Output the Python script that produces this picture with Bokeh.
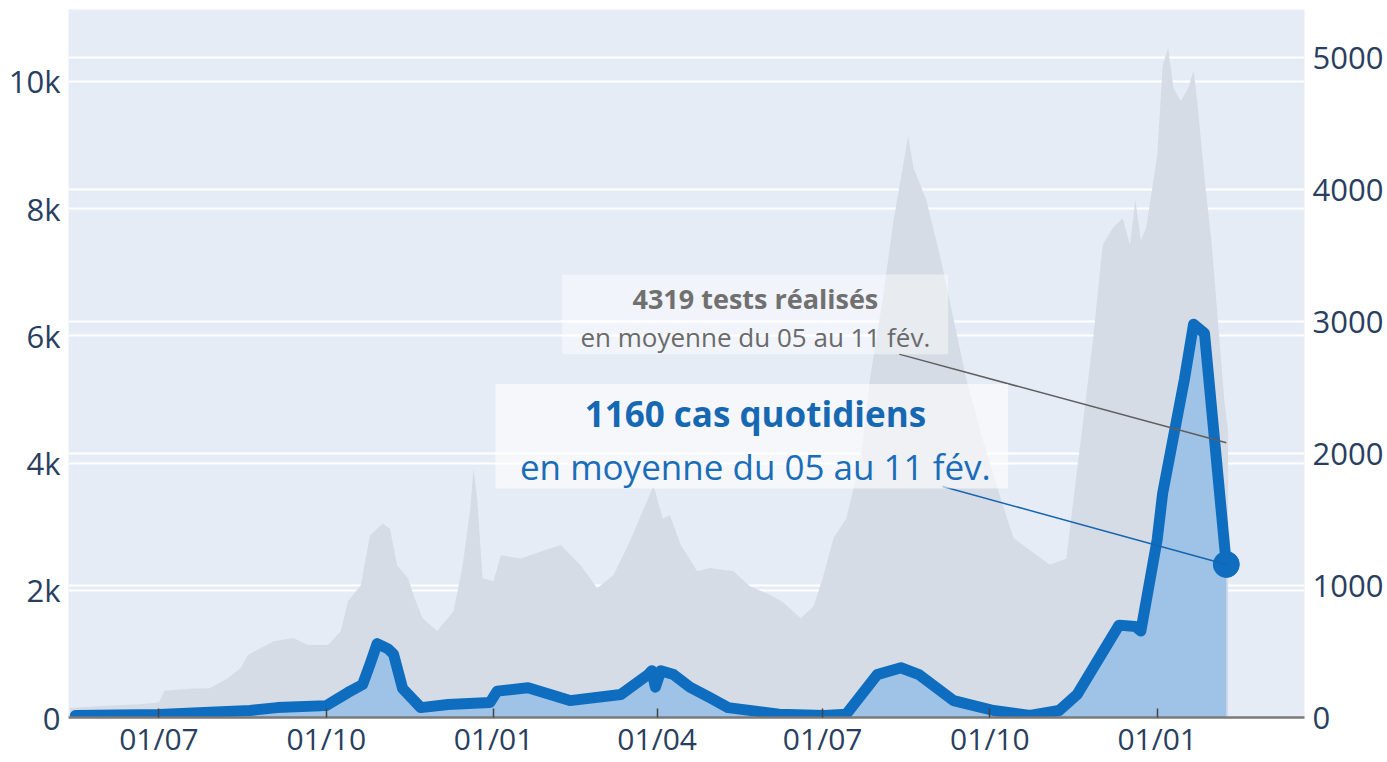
import pandas as pd
from bokeh.plotting import figure
from bokeh.models import (Range1d, LinearAxis, FixedTicker, NumeralTickFormatter,
                          DatetimeTickFormatter, Grid, BoxAnnotation, Label)
from bokeh.embed import file_html
from bokeh.resources import INLINE

# ---------------- data ----------------
tests_dates = ["2020-05-13", "2020-05-30", "2020-06-20", "2020-07-01", "2020-07-04", "2020-07-18",
               "2020-07-29", "2020-08-08", "2020-08-15", "2020-08-19", "2020-09-02", "2020-09-13",
               "2020-09-21", "2020-10-02", "2020-10-09", "2020-10-13", "2020-10-20", "2020-10-25",
               "2020-11-01", "2020-11-05", "2020-11-09", "2020-11-15", "2020-11-18", "2020-11-23",
               "2020-12-01", "2020-12-10", "2020-12-15", "2020-12-19", "2020-12-21", "2020-12-23",
               "2020-12-26", "2021-01-01", "2021-01-05", "2021-01-16", "2021-01-27", "2021-02-07",
               "2021-02-18", "2021-02-27", "2021-03-08", "2021-03-17", "2021-03-24", "2021-03-30",
               "2021-04-04", "2021-04-08", "2021-04-14", "2021-04-23", "2021-04-30", "2021-05-13",
               "2021-05-22", "2021-06-01", "2021-06-09", "2021-06-19", "2021-06-26", "2021-07-01",
               "2021-07-07", "2021-07-14", "2021-07-22", "2021-07-27", "2021-08-03", "2021-08-09",
               "2021-08-14", "2021-08-17", "2021-08-20", "2021-08-27", "2021-09-04", "2021-09-11",
               "2021-09-18", "2021-09-27", "2021-10-07", "2021-10-14", "2021-10-23", "2021-11-03",
               "2021-11-12", "2021-11-18", "2021-11-21", "2021-11-27", "2021-12-02", "2021-12-08",
               "2021-12-13", "2021-12-17", "2021-12-20", "2021-12-23", "2021-12-26", "2022-01-01",
               "2022-01-04", "2022-01-07", "2022-01-10", "2022-01-14", "2022-01-18", "2022-01-21",
               "2022-01-23", "2022-01-27", "2022-01-31", "2022-02-04", "2022-02-07", "2022-02-09"]
tests_values = [150, 180, 210, 235, 420, 450,
                460, 620, 780, 985, 1200, 1250,
                1140, 1140, 1360, 1830, 2080, 2860,
                3050, 2970, 2390, 2190, 1920, 1560,
                1360, 1670, 2390, 3240, 3910, 3440,
                2190, 2140, 2550, 2500, 2610, 2710,
                2390, 2030, 2240, 2770, 3240, 3650,
                3130, 3180, 2710, 2300, 2350, 2300,
                2065, 1940, 1815, 1560, 1750, 2190,
                2820, 3130, 4070, 5320, 6570, 7820,
                8640, 9140, 8640, 8140, 7200, 6260,
                5320, 4380, 3440, 2820, 2630, 2400,
                2500, 3910, 4600, 6020, 7430, 7710,
                7850, 7430, 8140, 7500, 7710, 8840,
                10250, 10530, 9890, 9690, 9890, 10170,
                9690, 8480, 7430, 6020, 4960, 4500]

cases_dates = ["2020-05-16", "2020-07-01", "2020-08-20", "2020-09-04", "2020-10-01", "2020-10-13",
               "2020-10-21", "2020-10-25", "2020-10-29", "2020-11-04", "2020-11-07", "2020-11-12",
               "2020-11-22", "2020-12-07", "2020-12-30", "2021-01-03", "2021-01-20", "2021-02-12",
               "2021-03-12", "2021-03-27", "2021-03-29", "2021-03-31", "2021-04-03", "2021-04-10",
               "2021-04-19", "2021-04-30", "2021-05-10", "2021-06-07", "2021-07-02", "2021-07-14",
               "2021-07-31", "2021-08-13", "2021-08-23", "2021-09-11", "2021-10-03", "2021-10-23",
               "2021-11-08", "2021-11-18", "2021-12-11", "2021-12-20", "2021-12-23", "2022-01-01",
               "2022-01-04", "2022-01-16", "2022-01-21", "2022-01-27", "2022-02-08"]
cases_avg = [15, 23, 53, 75, 90, 190,
             250, 400, 560, 520, 480, 220,
             75, 98, 113, 200, 226, 128,
             174, 325, 355, 230, 355, 325,
             230, 150, 75, 25, 15, 25,
             325, 377, 325, 128, 53, 15,
             53, 175, 700, 690, 656, 1350,
             1700, 2566, 2981, 2913, 1160]

tests_mean = 4319
cases_mean = 1160
period_text = "en moyenne du 05 au 11 fév."

left_ticks = [0, 2000, 4000, 6000, 8000, 10000]
right_ticks = [0, 1000, 2000, 3000, 4000, 5000]
x_tick_dates = ["2020-07-01", "2020-10-01", "2021-01-01", "2021-04-01",
                "2021-07-01", "2021-10-01", "2022-01-01"]


def ms(d):
    return pd.Timestamp(d).value / 1e6


tests_x = [ms(d) for d in tests_dates]
cases_x = [ms(d) for d in cases_dates]

FONT = "Open Sans"
AXIS_COLOR = "#2a3f5f"
BLUE = "#0f6dbf"

p = figure(width=1386, height=761, x_axis_type="datetime", output_backend="svg",
           toolbar_location=None,
           x_range=Range1d(ms("2020-05-12 06:00"), ms("2022-03-23")),
           y_range=Range1d(0, 11130),
           min_border_left=68, min_border_right=80, min_border_top=9, min_border_bottom=0)
p.extra_y_ranges = {"cases": Range1d(0, 5366)}
p.background_fill_color = "#e5ecf6"
p.border_fill_color = "white"
p.outline_line_color = None

# grids
p.xgrid.visible = False
p.ygrid.ticker = FixedTicker(ticks=left_ticks)
p.ygrid.grid_line_color = "white"
p.ygrid.grid_line_width = 2
p.add_layout(Grid(dimension=1, ticker=FixedTicker(ticks=right_ticks), y_range_name="cases",
                  grid_line_color="white", grid_line_width=2))

# left axis
p.yaxis.ticker = FixedTicker(ticks=left_ticks)
p.yaxis.formatter = NumeralTickFormatter(format="0a")
right_axis = LinearAxis(y_range_name="cases", ticker=FixedTicker(ticks=right_ticks),
                        formatter=NumeralTickFormatter(format="0"))
p.add_layout(right_axis, "right")
for ax in [p.yaxis[0], right_axis]:
    ax.axis_line_color = None
    ax.major_tick_line_color = None
    ax.minor_tick_line_color = None
    ax.major_label_text_font = FONT
    ax.major_label_text_font_size = "31px"
    ax.major_label_text_color = AXIS_COLOR
    ax.major_label_standoff = 2

# x axis
xa = p.xaxis[0]
xa.ticker = FixedTicker(ticks=[ms(d) for d in x_tick_dates])
xa.formatter = DatetimeTickFormatter(days="%d/%m", months="%d/%m", years="%d/%m")
xa.axis_line_color = "#7a7a7a"
xa.axis_line_width = 2.5
xa.major_tick_in = 9
xa.major_tick_out = 0
xa.major_tick_line_color = "#444444"
xa.major_tick_line_width = 1.5
xa.minor_tick_line_color = None
xa.major_label_text_font = FONT
xa.major_label_text_font_size = "30px"
xa.major_label_text_color = AXIS_COLOR
xa.major_label_standoff = 0

# glyphs
p.varea(x=tests_x, y1=0, y2=tests_values, fill_color="#d6dce5")
p.varea(x=cases_x, y1=0, y2=cases_avg, fill_color="#9ec3e6", y_range_name="cases")
p.line(cases_x, cases_avg, line_width=11, line_color=BLUE, line_join="round",
       line_cap="round", y_range_name="cases")
p.scatter([cases_x[-1]], [cases_avg[-1]], size=26, fill_color=BLUE, line_color=BLUE,
          y_range_name="cases")

# annotation boxes
p.add_layout(BoxAnnotation(left=ms("2021-02-07 18:00"), right=ms("2021-09-08"),
                           bottom=5712, top=6964, fill_color="white", fill_alpha=0.45,
                           line_color=None))
p.add_layout(BoxAnnotation(left=ms("2021-01-02"), right=ms("2021-10-11"),
                           bottom=3599, top=5243, fill_color="white", fill_alpha=0.6,
                           line_color=None))

# connector lines
p.line([ms("2021-08-12"), tests_x[-1] - 86400000], [5712, tests_mean],
       line_color="#5f5f5f", line_width=1.5)
p.line([ms("2021-09-05"), cases_x[-1]], [1751, cases_avg[-1]],
       line_color="#1565b0", line_width=1.5, y_range_name="cases")

label_x = ms("2021-05-25")
p.add_layout(Label(x=label_x, y=6581, text=f"{tests_mean} tests réalisés",
                   text_font=FONT, text_font_style="bold", text_font_size="27px",
                   text_color="#707070", text_align="center", text_baseline="middle"))
p.add_layout(Label(x=label_x, y=5986, text=period_text,
                   text_font=FONT, text_font_size="26px",
                   text_color="#6a6a6a", text_align="center", text_baseline="middle"))
p.add_layout(Label(x=label_x, y=4773, text=f"{cases_mean} cas quotidiens",
                   text_font=FONT, text_font_style="bold", text_font_size="35px",
                   text_color="#1668b3", text_align="center", text_baseline="middle"))
p.add_layout(Label(x=label_x, y=3944, text=period_text,
                   text_font=FONT, text_font_size="35px",
                   text_color="#1a6db8", text_align="center", text_baseline="middle"))

open("out.html", "w").write(file_html(p, INLINE))
